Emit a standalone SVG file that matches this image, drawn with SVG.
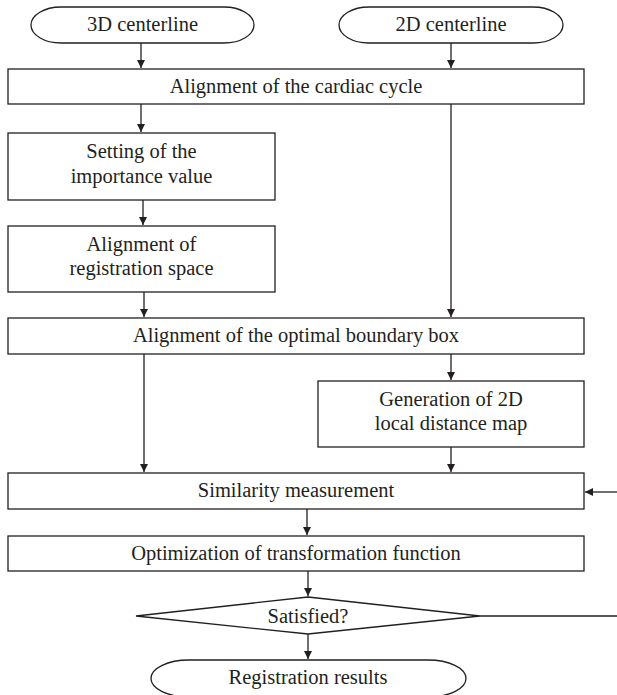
<svg xmlns="http://www.w3.org/2000/svg" width="617" height="695" viewBox="0 0 617 695">
<style>
.s{fill:#fff;stroke:#231f20;stroke-width:1.3}
.t{font-family:"Liberation Serif","Times New Roman",serif;font-size:20.5px;fill:#231f20;text-anchor:middle}
.c{fill:none;stroke:#231f20;stroke-width:1.3}
</style>
<defs>
<marker id="ah" viewBox="0 0 8 9" refX="8" refY="4.5" markerWidth="8" markerHeight="9" markerUnits="userSpaceOnUse" orient="auto">
<path d="M0,0.5 L8,4.5 L0,8.5 Z" fill="#231f20"/>
</marker>
</defs>
<rect width="617" height="695" fill="#fff"/>
<g id="n3d"><rect class="s" x="31" y="7" width="223" height="36" rx="30" ry="18"/><text class="t" x="142.5" y="31">3D centerline</text></g>
<g id="n2d"><rect class="s" x="339" y="7" width="224" height="36" rx="30" ry="18"/><text class="t" x="451" y="31">2D centerline</text></g>
<g id="ncardiac"><rect class="s" x="8" y="69" width="576" height="35"/><text class="t" x="296" y="93">Alignment of the cardiac cycle</text></g>
<g id="nsetting"><rect class="s" x="8" y="133" width="267" height="67"/><text class="t" x="141.5" y="158">Setting of the</text><text class="t" x="141.5" y="183">importance value</text></g>
<g id="nregspace"><rect class="s" x="8" y="226" width="267" height="66"/><text class="t" x="141.5" y="251">Alignment of</text><text class="t" x="141.5" y="275">registration space</text></g>
<g id="nbox"><rect class="s" x="8" y="318" width="576" height="36"/><text class="t" x="296" y="342">Alignment of the optimal boundary box</text></g>
<g id="ngen"><rect class="s" x="318" y="381" width="266" height="66"/><text class="t" x="451" y="406">Generation of 2D</text><text class="t" x="451" y="430">local distance map</text></g>
<g id="nsim"><rect class="s" x="8" y="473" width="576" height="36"/><text class="t" x="296" y="497">Similarity measurement</text></g>
<g id="nopt"><rect class="s" x="8" y="536" width="576" height="35"/><text class="t" x="296" y="560">Optimization of transformation function</text></g>
<g id="nsat"><polygon class="s" points="136,616 308,597 480,616 308,634"/><text class="t" x="308" y="623">Satisfied?</text></g>
<g id="nres"><rect class="s" x="151" y="660" width="315" height="37" rx="38" ry="18.5"/><text class="t" x="308" y="684">Registration results</text></g>
<g id="connectors">
<line class="c" x1="141" y1="43" x2="141" y2="68" marker-end="url(#ah)"/>
<line class="c" x1="451" y1="43" x2="451" y2="68" marker-end="url(#ah)"/>
<line class="c" x1="141" y1="104" x2="141" y2="132" marker-end="url(#ah)"/>
<line class="c" x1="143" y1="200" x2="143" y2="225" marker-end="url(#ah)"/>
<line class="c" x1="144" y1="292" x2="144" y2="317" marker-end="url(#ah)"/>
<line class="c" x1="451" y1="104" x2="451" y2="317" marker-end="url(#ah)"/>
<line class="c" x1="451" y1="354" x2="451" y2="380" marker-end="url(#ah)"/>
<line class="c" x1="144" y1="354" x2="144" y2="472" marker-end="url(#ah)"/>
<line class="c" x1="451" y1="447" x2="451" y2="472" marker-end="url(#ah)"/>
<line class="c" x1="307" y1="509" x2="307" y2="535" marker-end="url(#ah)"/>
<line class="c" x1="308" y1="571" x2="308" y2="596" marker-end="url(#ah)"/>
<line class="c" x1="308" y1="634" x2="308" y2="659" marker-end="url(#ah)"/>
<line class="c" x1="480" y1="616" x2="617" y2="616"/>
<line class="c" x1="617" y1="492" x2="585" y2="492" marker-end="url(#ah)"/>
</g>
</svg>
